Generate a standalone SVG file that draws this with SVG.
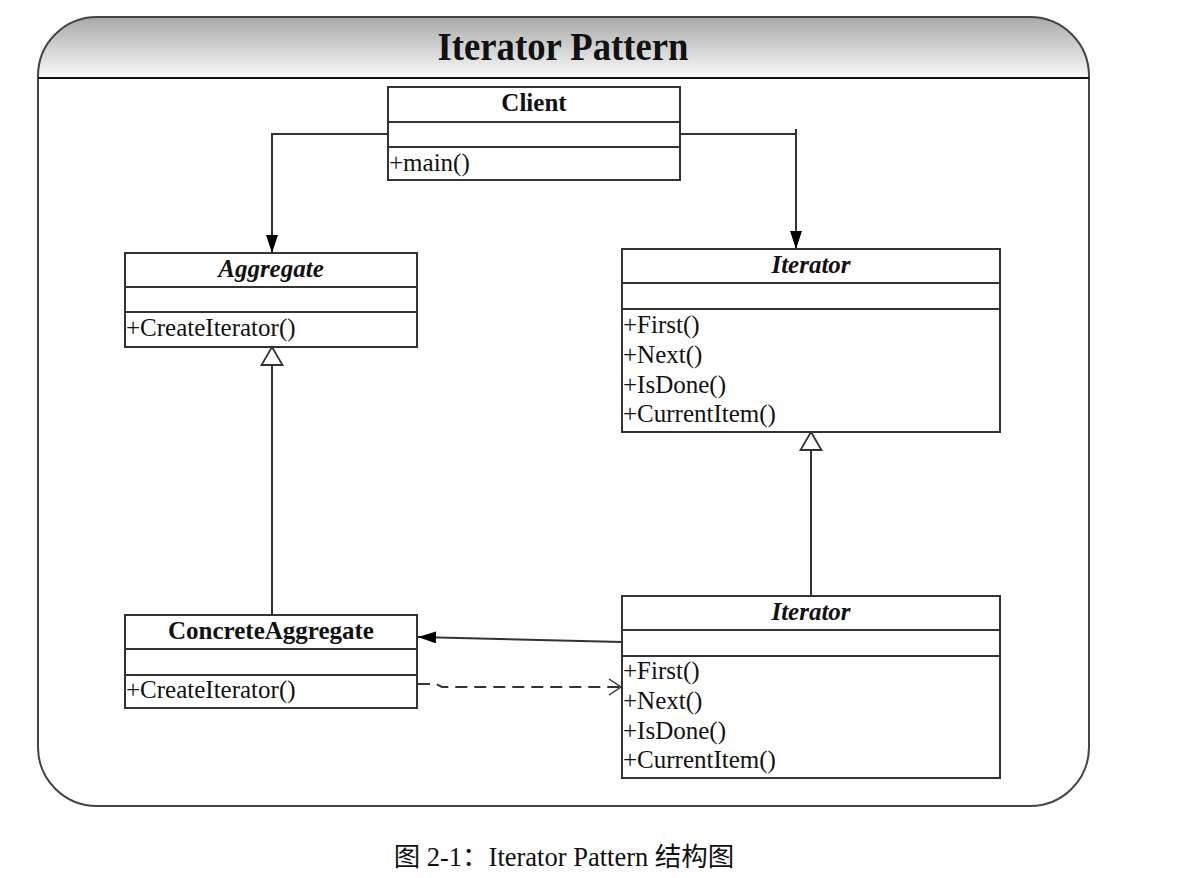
<svg xmlns="http://www.w3.org/2000/svg" width="1188" height="878" viewBox="0 0 1188 878">
<defs>
<linearGradient id="hdr" x1="0" y1="0" x2="0" y2="1">
<stop offset="0" stop-color="#a9a9a9"/>
<stop offset="1" stop-color="#fafafa"/>
</linearGradient>
<marker id="filled" markerWidth="18" markerHeight="12" refX="18" refY="6" orient="auto" markerUnits="userSpaceOnUse">
<path d="M0,0 L18,6 L0,12 Z" fill="#000"/>
</marker>
<marker id="open" markerWidth="14" markerHeight="18" refX="13" refY="9" orient="auto" markerUnits="userSpaceOnUse">
<path d="M1,1 L13,9 L1,17" fill="none" stroke="#333" stroke-width="1.5"/>
</marker>
</defs>
<style>
.box{fill:#fff;stroke:#333;stroke-width:2}
.sep{stroke:#333;stroke-width:2}
.t{font-family:"Liberation Serif","Times New Roman",serif;font-size:25px;fill:#111}
.b{font-weight:bold;text-anchor:middle}
.bi{font-weight:bold;font-style:italic;text-anchor:middle}
.ln{fill:none;stroke:#333;stroke-width:2}
.tri{fill:#fff;stroke:#333;stroke-width:1.8}
</style>
<rect width="1188" height="878" fill="#fff"/>
<g id="frame">
<path d="M38,806 L38,76 A59,59 0 0 1 97,17 L1030,17 A59,59 0 0 1 1089,76 L1089,747 A59,59 0 0 1 1030,806 L97,806 A59,59 0 0 1 38,747 Z" fill="#fff"/>
<path d="M38,78 L38,76 A59,59 0 0 1 97,17 L1030,17 A59,59 0 0 1 1089,76 L1089,78 Z" fill="url(#hdr)"/>
<path d="M38,747 L38,76 A59,59 0 0 1 97,17 L1030,17 A59,59 0 0 1 1089,76 L1089,747 A59,59 0 0 1 1030,806 L97,806 A59,59 0 0 1 38,747 Z" fill="none" stroke="#444" stroke-width="2"/>
<line x1="38" y1="78" x2="1089" y2="78" stroke="#111" stroke-width="2"/>
<text x="563" y="60" font-family="'Liberation Serif','Times New Roman',serif" font-size="40" font-weight="bold" text-anchor="middle" textLength="251" lengthAdjust="spacingAndGlyphs" fill="#111">Iterator Pattern</text>
</g>
<g id="connectors">
<path class="ln" d="M388,134 L272,134 L272,253" marker-end="url(#filled)"/>
<path class="ln" d="M680,134 L796,134 L796,249" marker-end="url(#filled)"/>
<line class="ln" x1="796" y1="129" x2="796" y2="134"/>
<line class="ln" x1="272" y1="615" x2="272" y2="365"/>
<path class="tri" d="M272,347 L282.5,365 L261.5,365 Z"/>
<line class="ln" x1="811" y1="596" x2="811" y2="450"/>
<path class="tri" d="M811,432 L821.5,450 L800.5,450 Z"/>
<path class="ln" d="M622,642 L418,637" marker-end="url(#filled)"/>
<path class="ln" d="M418,684 L436,684 L442,687 L621,687" stroke-dasharray="12,7" marker-end="url(#open)"/>
</g>
<g id="client">
<rect class="box" x="388" y="87" width="292" height="93"/>
<line class="sep" x1="388" y1="122" x2="680" y2="122"/>
<line class="sep" x1="388" y1="147" x2="680" y2="147"/>
<text class="t b" x="534" y="111">Client</text>
<text class="t" x="389" y="171">+main()</text>
</g>
<g id="aggregate">
<rect class="box" x="125" y="253" width="292" height="94"/>
<line class="sep" x1="125" y1="287" x2="417" y2="287"/>
<line class="sep" x1="125" y1="312" x2="417" y2="312"/>
<text class="t bi" x="271" y="277">Aggregate</text>
<text class="t" x="126" y="336">+CreateIterator()</text>
</g>
<g id="iterator">
<rect class="box" x="622" y="249" width="378" height="183"/>
<line class="sep" x1="622" y1="283" x2="1000" y2="283"/>
<line class="sep" x1="622" y1="309" x2="1000" y2="309"/>
<text class="t bi" x="811" y="273">Iterator</text>
<text class="t" x="623" y="333">+First()</text>
<text class="t" x="623" y="363">+Next()</text>
<text class="t" x="623" y="393">+IsDone()</text>
<text class="t" x="623" y="422">+CurrentItem()</text>
</g>
<g id="concreteAggregate">
<rect class="box" x="125" y="615" width="292" height="93"/>
<line class="sep" x1="125" y1="649" x2="417" y2="649"/>
<line class="sep" x1="125" y1="675" x2="417" y2="675"/>
<text class="t b" x="271" y="639">ConcreteAggregate</text>
<text class="t" x="126" y="698">+CreateIterator()</text>
</g>
<g id="concreteIterator">
<rect class="box" x="622" y="596" width="378" height="182"/>
<line class="sep" x1="622" y1="630" x2="1000" y2="630"/>
<line class="sep" x1="622" y1="656" x2="1000" y2="656"/>
<text class="t bi" x="811" y="620">Iterator</text>
<text class="t" x="623" y="679">+First()</text>
<text class="t" x="623" y="709">+Next()</text>
<text class="t" x="623" y="739">+IsDone()</text>
<text class="t" x="623" y="768">+CurrentItem()</text>
</g>
<text x="564" y="866" font-family="'Liberation Serif','Times New Roman','Noto Sans CJK SC',serif" font-size="26.5" text-anchor="middle" fill="#111">图 2-1：Iterator Pattern 结构图</text>
</svg>
